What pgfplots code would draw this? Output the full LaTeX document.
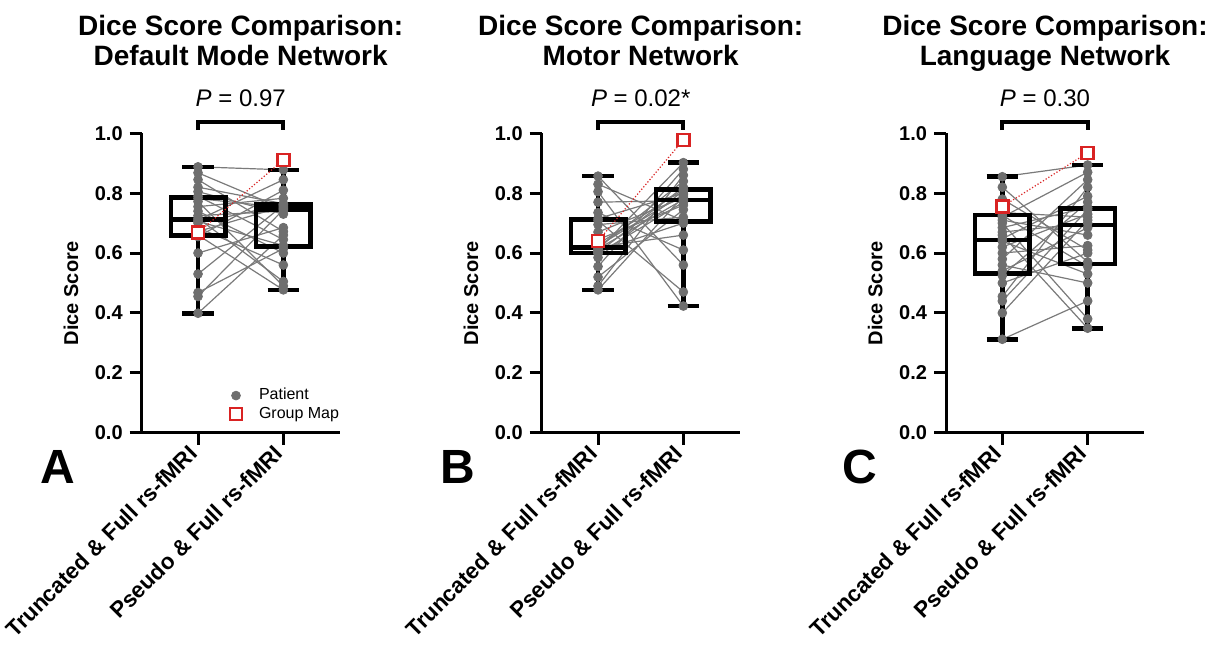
\documentclass[border=0pt]{standalone}
\usepackage{pgfplots}
\pgfplotsset{compat=1.18}
\usepackage{pgfplotstable}
\usepgfplotslibrary{statistics}
\usepackage{fontspec}
\setmainfont{Liberation Sans}
\definecolor{ptgray}{HTML}{6E6E6E}
\definecolor{lngray}{HTML}{7A7A7A}
\definecolor{gmred}{HTML}{D92323}

% Panel A: Default Mode Network (T = Truncated & Full, P = Pseudo & Full)
\pgfplotstableread{
T P
0.399 0.660
0.455 0.745
0.468 0.615
0.530 0.760
0.600 0.685
0.655 0.810
0.660 0.477
0.672 0.756
0.685 0.560
0.700 0.762
0.706 0.625
0.710 0.845
0.716 0.505
0.725 0.740
0.740 0.600
0.755 0.783
0.772 0.490
0.782 0.752
0.790 0.645
0.805 0.730
0.820 0.765
0.845 0.672
0.868 0.748
0.888 0.878
}\dataA

% Panel B: Motor Network
\pgfplotstableread{
T P
0.477 0.790
0.490 0.860
0.520 0.745
0.555 0.880
0.585 0.808
0.598 0.770
0.602 0.820
0.606 0.700
0.610 0.902
0.614 0.779
0.617 0.840
0.620 0.660
0.624 0.795
0.630 0.812
0.645 0.760
0.670 0.785
0.695 0.720
0.708 0.470
0.715 0.800
0.735 0.610
0.770 0.775
0.805 0.423
0.830 0.708
0.857 0.560
}\dataB

% Panel C: Language Network
\pgfplotstableread{
T P
0.312 0.440
0.400 0.710
0.440 0.745
0.455 0.820
0.500 0.600
0.525 0.770
0.540 0.685
0.560 0.500
0.580 0.845
0.600 0.625
0.620 0.730
0.640 0.530
0.648 0.790
0.660 0.349
0.670 0.700
0.685 0.752
0.700 0.380
0.710 0.660
0.720 0.870
0.726 0.555
0.735 0.720
0.780 0.610
0.820 0.570
0.855 0.894
}\dataC

\pgfplotsset{
  panel/.style={
    scale only axis, width=99pt, height=149.7pt,
    xmin=0.34, xmax=2.66, ymin=0, ymax=1,
    axis x line*=bottom, axis y line*=left,
    axis line style={line width=1.5pt, -},
    every tick/.style={black, line width=1.5pt},
    major tick length=6pt, tick align=outside,
    xtick={1,2},
    xticklabels={Truncated \& Full rs-fMRI, Pseudo \& Full rs-fMRI},
    ytick={0,0.2,0.4,0.6,0.8,1.0},
    yticklabel style={font=\bfseries\fontsize{10}{12}\selectfont,
      /pgf/number format/fixed, /pgf/number format/fixed zerofill,
      /pgf/number format/precision=1, /pgf/number format/assume math mode=true},
    xticklabel style={font=\bfseries\fontsize{11.2}{13}\selectfont, rotate=45, anchor=east},
    ylabel={Dice Score},
    every axis y label/.style={at={(axis description cs:-0.357,0.465)}, rotate=90,
      anchor=center, font=\bfseries\fontsize{10}{12}\selectfont},
    clip=false,
    boxplot/draw direction=y,
    legend cell align=left,
    legend style={draw=none, fill=none, at={(axis cs:1.37,0.163)}, anchor=north west,
      font=\fontsize{8}{9}\selectfont, row sep=-2pt, inner sep=0pt,
      /tikz/every odd column/.append style={column sep=6.5pt}},
  },
  patient/.style={only marks, mark=*, mark size=2.2pt, color=ptgray,
      mark options={draw=ptgray, fill=ptgray}},
  pairline/.style={lngray, line width=0.6pt, forget plot, mark=none,
      quiver={u=1, v=\thisrow{P}-\thisrow{T}}},
  gmline/.style={gmred, densely dotted, line width=0.6pt, forget plot, mark=none},
  gmmark/.style={only marks, mark=square*, mark size=3pt, color=gmred,
      mark options={solid, draw=gmred, fill=white, line width=1.2pt}},
  bx/.style={black, line width=2.3pt, solid, forget plot, mark=none},
}

\newcommand{\paneltitle}[3]{%
  \draw[line width=2pt] (axis cs:1,1.011) -- (axis cs:1,1.038) -- (axis cs:2,1.038) -- (axis cs:2,1.011);
  \node[anchor=base, font=\fontsize{12}{14}\selectfont] at (axis cs:1.5,1.091) {#3};
  \node[anchor=base, font=\bfseries\fontsize{14}{16}\selectfont] at (axis cs:1.5,1.328) {#1};
  \node[anchor=base, font=\bfseries\fontsize{14}{16}\selectfont] at (axis cs:1.5,1.228) {#2};
}

\begin{document}
\begin{tikzpicture}
\useasboundingbox (0,0) rectangle (607.5pt,323.5pt);

% ---------------- Panel A ----------------
\begin{axis}[panel, at={(70.85pt,107.15pt)}, anchor=south west]
\addplot[pairline] table[x expr=1, y=T] {\dataA};
\addplot[bx, boxplot prepared={draw position=1, lower whisker=0.399, lower quartile=0.659,
  median=0.713, upper quartile=0.786, upper whisker=0.888, box extend=0.637, whisker extend=0.37}] coordinates {};
\addplot[bx, boxplot prepared={draw position=2, lower whisker=0.477, lower quartile=0.621,
  median=0.746, upper quartile=0.763, upper whisker=0.878, box extend=0.637, whisker extend=0.37}] coordinates {};
\addplot[patient] table[x expr=1, y=T] {\dataA};
\addlegendentry{Patient}
\addplot[patient, forget plot] table[x expr=2, y=P] {\dataA};
\addplot[gmline] coordinates {(1,0.668) (2,0.911)};
\addplot[gmmark] coordinates {(1,0.668) (2,0.911)};
\addlegendentry{Group Map}
\paneltitle{Dice Score Comparison:}{Default Mode Network}{\textit{P} = 0.97}
\end{axis}

% ---------------- Panel B ----------------
\begin{axis}[panel, at={(270.85pt,107.15pt)}, anchor=south west]
\addplot[pairline] table[x expr=1, y=T] {\dataB};
\addplot[bx, boxplot prepared={draw position=1, lower whisker=0.477, lower quartile=0.600,
  median=0.618, upper quartile=0.713, upper whisker=0.857, box extend=0.637, whisker extend=0.37}] coordinates {};
\addplot[bx, boxplot prepared={draw position=2, lower whisker=0.423, lower quartile=0.705,
  median=0.777, upper quartile=0.813, upper whisker=0.902, box extend=0.637, whisker extend=0.37}] coordinates {};
\addplot[patient] table[x expr=1, y=T] {\dataB};
\addplot[patient, forget plot] table[x expr=2, y=P] {\dataB};
\addplot[gmline] coordinates {(1,0.640) (2,0.978)};
\addplot[gmmark] coordinates {(1,0.640) (2,0.978)};
\paneltitle{Dice Score Comparison:}{Motor Network}{\textit{P} = 0.02*}
\end{axis}

% ---------------- Panel C ----------------
\begin{axis}[panel, at={(473pt,107.15pt)}, anchor=south west]
\addplot[pairline] table[x expr=1, y=T] {\dataC};
\addplot[bx, boxplot prepared={draw position=1, lower whisker=0.312, lower quartile=0.532,
  median=0.644, upper quartile=0.727, upper whisker=0.855, box extend=0.637, whisker extend=0.37}] coordinates {};
\addplot[bx, boxplot prepared={draw position=2, lower whisker=0.349, lower quartile=0.563,
  median=0.694, upper quartile=0.749, upper whisker=0.894, box extend=0.637, whisker extend=0.37}] coordinates {};
\addplot[patient] table[x expr=1, y=T] {\dataC};
\addplot[patient, forget plot] table[x expr=2, y=P] {\dataC};
\addplot[gmline] coordinates {(1,0.755) (2,0.935)};
\addplot[gmmark] coordinates {(1,0.755) (2,0.935)};
\paneltitle{Dice Score Comparison:}{Language Network}{\textit{P} = 0.30}
\end{axis}

\node[font=\bfseries\fontsize{24}{28}\selectfont] at (29.15pt,90.15pt) {A};
\node[font=\bfseries\fontsize{24}{28}\selectfont] at (229pt,90.15pt) {B};
\node[font=\bfseries\fontsize{24}{28}\selectfont] at (430pt,90.15pt) {C};
\end{tikzpicture}
\end{document}
